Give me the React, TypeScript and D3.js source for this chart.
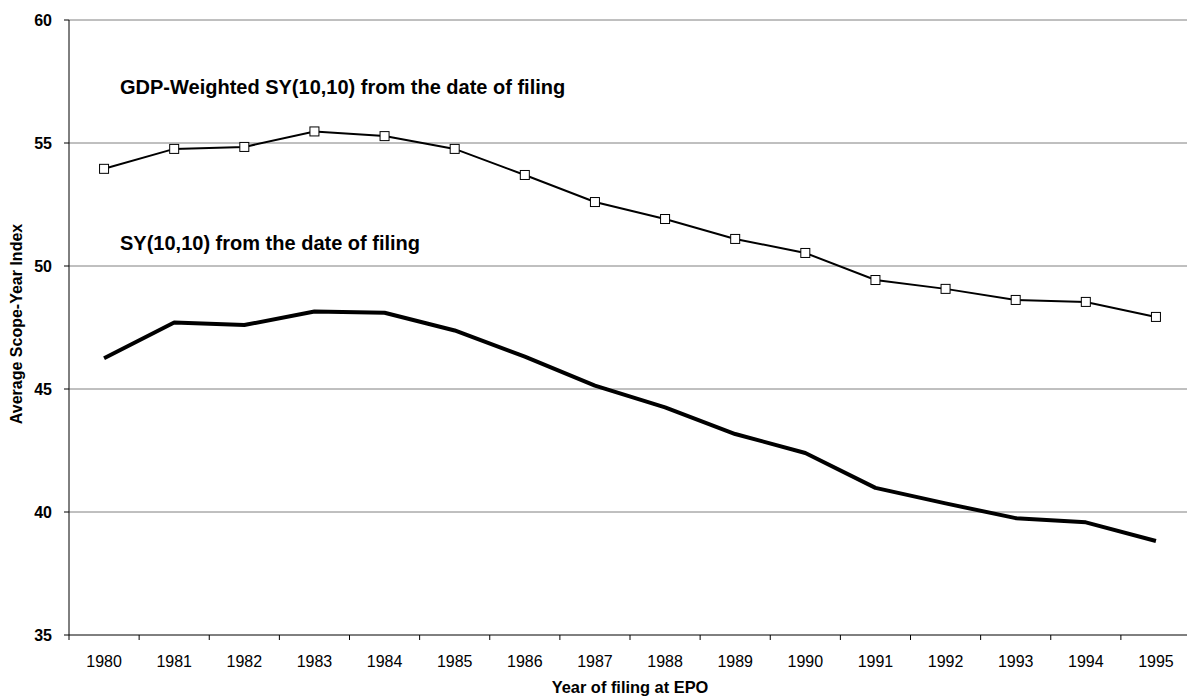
import React from "react";
import * as d3 from "d3";

const years = ["1980","1981","1982","1983","1984","1985","1986","1987","1988","1989","1990","1991","1992","1993","1994","1995"];
const gdpWeighted = [53.95, 54.76, 54.84, 55.47, 55.28, 54.76, 53.70, 52.60, 51.91, 51.10, 50.53, 49.43, 49.07, 48.62, 48.54, 47.93];
const syValues = [46.25, 47.70, 47.60, 48.15, 48.10, 47.38, 46.32, 45.14, 44.25, 43.17, 42.40, 40.98, 40.35, 39.75, 39.58, 38.82];
const yTicks = [35, 40, 45, 50, 55, 60];

export default function App() {
  const W = 1187, H = 697;
  const m = { left: 69, right: 1191, top: 20, bottom: 635 };
  const x = d3.scaleBand().domain(years).range([m.left, m.right]);
  const y = d3.scaleLinear().domain([35, 60]).range([m.bottom, m.top]);
  const cx = (yr: string) => (x(yr) as number) + x.bandwidth() / 2;
  const line = d3.line<number>().x((_, i) => cx(years[i])).y(v => y(v));
  const font = "'Liberation Sans', Arimo, sans-serif";
  return (
    <svg width={W} height={H} style={{ position: "absolute", left: 0, top: 0, fontFamily: font }}>
      <rect width={W} height={H} fill="#fff" />
      {yTicks.filter(t => t > 35).map(t => (
        <line key={t} x1={m.left} x2={m.right} y1={y(t)} y2={y(t)} stroke="#808080" strokeWidth={1} />
      ))}
      <line x1={m.left} x2={m.left} y1={m.top} y2={m.bottom + 5} stroke="#000" strokeWidth={1} />
      <line x1={m.left} x2={m.right} y1={m.bottom} y2={m.bottom} stroke="#000" strokeWidth={1} />
      {yTicks.map(t => (
        <g key={t}>
          <line x1={m.left - 5} x2={m.left} y1={y(t)} y2={y(t)} stroke="#000" />
          <text x={52} y={y(t) + 6} textAnchor="end" fontSize={16} fontWeight="bold" fontFamily={font}>{t}</text>
        </g>
      ))}
      {years.map((yr) => (
        <g key={yr}>
          <line x1={(x(yr) as number) + x.bandwidth()} x2={(x(yr) as number) + x.bandwidth()} y1={m.bottom} y2={m.bottom + 5} stroke="#000" />
          <text x={cx(yr)} y={667} textAnchor="middle" fontSize={16} fontFamily={font}>{yr}</text>
        </g>
      ))}
      <text x={(m.left + m.right) / 2} y={693} textAnchor="middle" fontSize={16.4} fontWeight="bold" fontFamily={font}>Year of filing at EPO</text>
      <text transform={`translate(22,324) rotate(-90)`} textAnchor="middle" fontSize={16} fontWeight="bold" fontFamily={font}>Average Scope-Year Index</text>
      <path d={line(syValues) || ""} fill="none" stroke="#000" strokeWidth={4} strokeLinejoin="round" />
      <path d={line(gdpWeighted) || ""} fill="none" stroke="#000" strokeWidth={2} />
      {gdpWeighted.map((v, i) => (
        <rect key={i} x={cx(years[i]) - 4.5} y={y(v) - 4.5} width={9} height={9} fill="#fff" stroke="#000" strokeWidth={1} />
      ))}
      <text x={120} y={94} fontSize={20} fontWeight="bold" fontFamily={font}>GDP-Weighted SY(10,10) from the date of filing</text>
      <text x={120} y={250} fontSize={20} fontWeight="bold" fontFamily={font}>SY(10,10) from the date of filing</text>
    </svg>
  );
}
